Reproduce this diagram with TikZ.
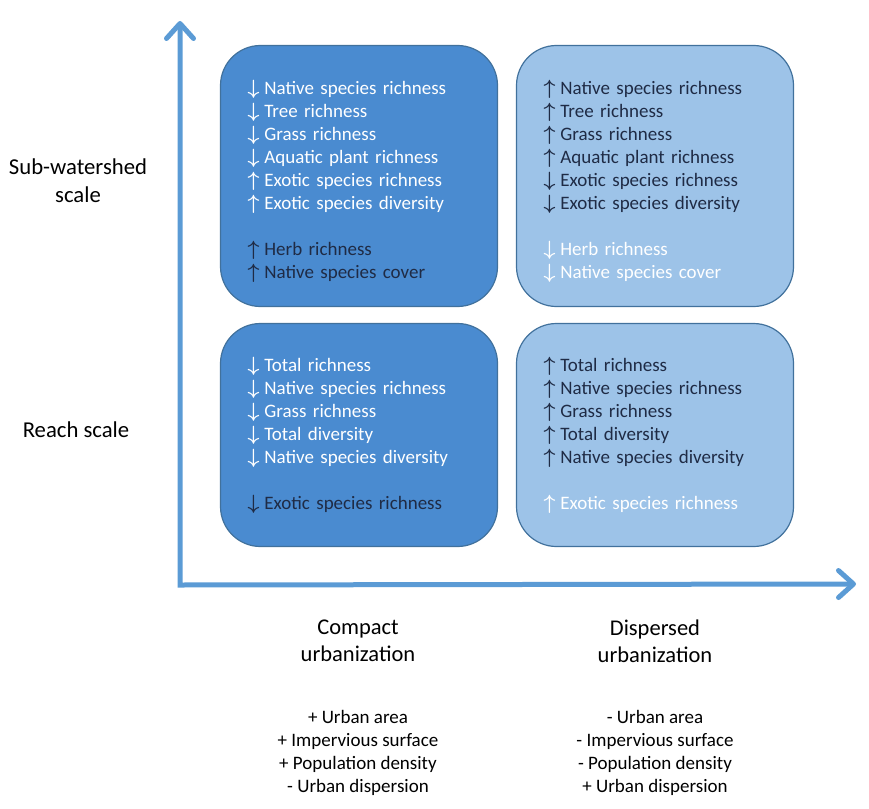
\documentclass[tikz,border=0pt]{standalone}
\usepackage{fontspec}
\setmainfont{Carlito}
\usetikzlibrary{arrows.meta}

\definecolor{axisblue}{HTML}{5B9BD5}
\definecolor{compactfill}{HTML}{4A8BD0}
\definecolor{dispersedfill}{HTML}{9DC3E8}
\definecolor{boxline}{HTML}{41719C}
\definecolor{navy}{HTML}{1F2B45}

\newcommand{\arrup}{{\boldmath$\uparrow$}\hspace{5bp}}
\newcommand{\arrdown}{{\boldmath$\downarrow$}\hspace{5bp}}

\tikzset{
    quadrant/.style={draw=boxline, line width=1.2bp, rounded corners=40bp,
        minimum width=277bp, inner xsep=27bp, text width=223bp, align=left,
        font=\fontsize{19bp}{23bp}\selectfont},
    compactbox/.style={quadrant, fill=compactfill, text=white},
    dispersedbox/.style={quadrant, fill=dispersedfill, text=navy},
    axis/.style={axisblue, line width=5bp, line join=miter,
        {Straight Barb[length=15bp, width=27bp, round]}-{Straight Barb[length=15bp, width=27bp, round]}},
    scalelabel/.style={align=center, font=\fontsize{22.7bp}{28bp}\selectfont},
    urbanlabel/.style={align=center, font=\fontsize{22.5bp}{27bp}\selectfont},
    urbanlist/.style={align=center, font=\fontsize{19bp}{23bp}\selectfont}
}

\begin{document}
\begin{tikzpicture}[x=1bp, y=-1bp]
    \useasboundingbox (0,0) rectangle (869,809);

    % axes
    \coordinate (origin) at (180,585);
    \coordinate (ytop) at (180,21);
    \coordinate (xend) at (856,584);
    \draw[axis] (ytop) -- (origin) -- (xend);

    % sub-watershed row
    \node[compactbox, minimum height=261bp] (subcompact) at (359,176) {%
        \rule{0pt}{26bp}\arrdown Native species richness\\
        \arrdown Tree richness\\
        \arrdown Grass richness\\
        \arrdown Aquatic plant richness\\
        \arrup Exotic species richness\\
        \arrup Exotic species diversity\\[23bp]
        \textcolor{navy}{\arrup Herb richness}\\
        \textcolor{navy}{\arrup Native species cover}};
    \node[dispersedbox, minimum height=261bp] (subdispersed) at (655,176) {%
        \rule{0pt}{26bp}\arrup Native species richness\\
        \arrup Tree richness\\
        \arrup Grass richness\\
        \arrup Aquatic plant richness\\
        \arrdown Exotic species richness\\
        \arrdown Exotic species diversity\\[23bp]
        \textcolor{white}{\arrdown Herb richness}\\
        \textcolor{white}{\arrdown Native species cover}};

    % reach row
    \node[compactbox, minimum height=223bp] (reachcompact) at (359,435) {%
        \arrdown Total richness\\
        \arrdown Native species richness\\
        \arrdown Grass richness\\
        \arrdown Total diversity\\
        \arrdown Native species diversity\\[23bp]
        \textcolor{navy}{\arrdown Exotic species richness}};
    \node[dispersedbox, minimum height=223bp] (reachdispersed) at (655,435) {%
        \arrup Total richness\\
        \arrup Native species richness\\
        \arrup Grass richness\\
        \arrup Total diversity\\
        \arrup Native species diversity\\[23bp]
        \textcolor{white}{\arrup Exotic species richness}};

    % labels
    \node[scalelabel] (subscale) at (78,181) {Sub-watershed\\scale};
    \node[scalelabel] (reachscale) at (76,430) {Reach scale};
    \node[urbanlabel] (compact) at (358,641) {Compact\\urbanization};
    \node[urbanlabel] (dispersed) at (655,641) {Dispersed\\urbanization};
    \node[urbanlist] (compactlist) at (358,753) {+ Urban area\\+ Impervious surface\\+ Population density\\- Urban dispersion};
    \node[urbanlist] (dispersedlist) at (655,753) {- Urban area\\- Impervious surface\\- Population density\\+ Urban dispersion};
\end{tikzpicture}
\end{document}
